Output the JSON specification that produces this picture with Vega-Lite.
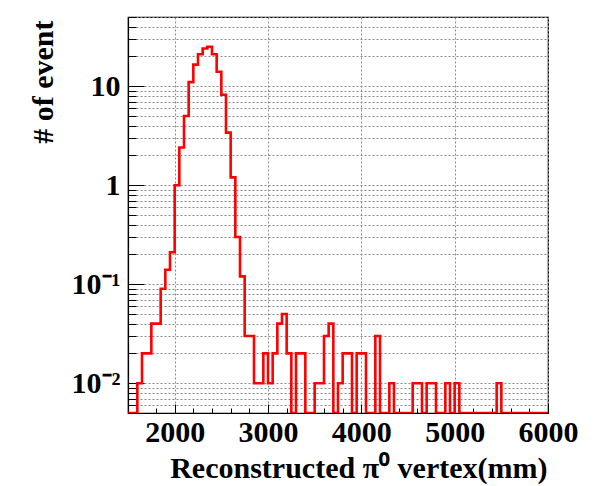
{
  "$schema": "https://vega.github.io/schema/vega-lite/v6.json",
  "width": 420,
  "height": 396,
  "autosize": {"type": "none"},
  "padding": {"left": 128, "top": 17, "right": 49, "bottom": 73},
  "background": "white",
  "config": {
    "view": {"stroke": "black", "strokeWidth": 1.2},
    "font": "Liberation Serif"
  },
  "data": {
    "values": [
      {"x": 1500, "n": 0}, {"x": 1550, "n": 0}, {"x": 1600, "n": 0.01}, {"x": 1650, "n": 0.02},
      {"x": 1700, "n": 0.02}, {"x": 1750, "n": 0.04}, {"x": 1800, "n": 0.04}, {"x": 1850, "n": 0.09},
      {"x": 1900, "n": 0.14}, {"x": 1950, "n": 0.21}, {"x": 2000, "n": 1.0}, {"x": 2050, "n": 2.4},
      {"x": 2100, "n": 5.0}, {"x": 2150, "n": 11}, {"x": 2200, "n": 16.5}, {"x": 2250, "n": 21},
      {"x": 2300, "n": 24}, {"x": 2350, "n": 25}, {"x": 2400, "n": 21}, {"x": 2450, "n": 14},
      {"x": 2500, "n": 8.2}, {"x": 2550, "n": 3.4}, {"x": 2600, "n": 1.2}, {"x": 2650, "n": 0.3},
      {"x": 2700, "n": 0.12}, {"x": 2750, "n": 0.03}, {"x": 2800, "n": 0.03}, {"x": 2850, "n": 0.01},
      {"x": 2900, "n": 0.01}, {"x": 2950, "n": 0.02}, {"x": 3000, "n": 0.01}, {"x": 3050, "n": 0.02},
      {"x": 3100, "n": 0.04}, {"x": 3150, "n": 0.05}, {"x": 3200, "n": 0.02}, {"x": 3250, "n": 0},
      {"x": 3300, "n": 0.02}, {"x": 3350, "n": 0.02}, {"x": 3400, "n": 0}, {"x": 3450, "n": 0},
      {"x": 3500, "n": 0.01}, {"x": 3550, "n": 0.01}, {"x": 3600, "n": 0.03}, {"x": 3650, "n": 0.04},
      {"x": 3700, "n": 0}, {"x": 3750, "n": 0.01}, {"x": 3800, "n": 0.02}, {"x": 3850, "n": 0.02},
      {"x": 3900, "n": 0}, {"x": 3950, "n": 0.02}, {"x": 4000, "n": 0.02}, {"x": 4050, "n": 0},
      {"x": 4100, "n": 0}, {"x": 4150, "n": 0.03}, {"x": 4200, "n": 0}, {"x": 4250, "n": 0},
      {"x": 4300, "n": 0.01}, {"x": 4350, "n": 0}, {"x": 4400, "n": 0}, {"x": 4450, "n": 0},
      {"x": 4500, "n": 0}, {"x": 4550, "n": 0.01}, {"x": 4600, "n": 0.01}, {"x": 4650, "n": 0},
      {"x": 4700, "n": 0.01}, {"x": 4750, "n": 0.01}, {"x": 4800, "n": 0}, {"x": 4850, "n": 0},
      {"x": 4900, "n": 0.01}, {"x": 4950, "n": 0}, {"x": 5000, "n": 0.01}, {"x": 5050, "n": 0},
      {"x": 5100, "n": 0}, {"x": 5150, "n": 0}, {"x": 5200, "n": 0}, {"x": 5250, "n": 0},
      {"x": 5300, "n": 0}, {"x": 5350, "n": 0}, {"x": 5400, "n": 0}, {"x": 5450, "n": 0.01},
      {"x": 5500, "n": 0}, {"x": 5550, "n": 0}, {"x": 5600, "n": 0}, {"x": 5650, "n": 0},
      {"x": 5700, "n": 0}, {"x": 5750, "n": 0}, {"x": 5800, "n": 0}, {"x": 5850, "n": 0},
      {"x": 5900, "n": 0}, {"x": 5950, "n": 0}, {"x": 6000, "n": 0}
    ]
  },
  "mark": {"type": "line", "interpolate": "step-after", "color": "#ff0000", "strokeWidth": 2.6, "clip": true, "invalid": "show"},
  "encoding": {
    "x": {
      "field": "x", "type": "quantitative",
      "scale": {"domain": [1500, 6000], "nice": false, "zero": false},
      "axis": {
        "values": [1600, 1800, 2000, 2200, 2400, 2600, 2800, 3000, 3200, 3400, 3600, 3800, 4000, 4200, 4400, 4600, 4800, 5000, 5200, 5400, 5600, 5800, 6000],
        "labelExpr": "datum.value % 1000 == 0 ? datum.value : ''",
        "labelFlush": false, "labelOverlap": false, "labelBound": false,
        "labelFont": "Liberation Serif", "labelFontWeight": "bold", "labelFontSize": 30, "labelColor": "black",
        "labelPadding": 13,
        "tickSize": {"condition": {"test": "datum.value % 1000 == 0", "value": -9}, "value": -5},
        "tickColor": "black", "tickWidth": 1,
        "domain": true, "domainColor": "black", "domainWidth": 1.2,
        "grid": true,
        "gridOpacity": {"condition": {"test": "datum.value % 1000 == 0", "value": 1}, "value": 0},
        "gridColor": "#8a8a8a", "gridDash": [2, 2], "gridWidth": 1,
        "title": "Reconstructed π⁰ vertex(mm)",
        "titleFont": "Liberation Serif", "titleFontWeight": "bold", "titleFontSize": 30, "titleColor": "black",
        "titleAnchor": "end", "titleAlign": "right", "titleBaseline": "alphabetic",
        "titleX": 419, "titleY": 64
      }
    },
    "y": {
      "field": "n", "type": "quantitative",
      "scale": {"type": "log", "domain": [0.005, 50], "nice": false, "clamp": true},
      "axis": {
        "values": [0.005, 0.006, 0.007, 0.008, 0.009, 0.01, 0.02, 0.03, 0.04, 0.05, 0.06, 0.07, 0.08, 0.09, 0.1, 0.2, 0.3, 0.4, 0.5, 0.6, 0.7, 0.8, 0.9, 1, 2, 3, 4, 5, 6, 7, 8, 9, 10, 20, 30, 40, 50],
        "labelExpr": "datum.value == 10 ? '10' : datum.value == 1 ? '1' : datum.value == 0.1 ? '10⁻¹' : datum.value == 0.01 ? '10⁻²' : ''",
        "labelOverlap": false, "labelBound": false, "labelFlush": false,
        "labelFont": "Liberation Serif", "labelFontWeight": "bold", "labelFontSize": 30, "labelColor": "black",
        "labelPadding": 24,
        "tickSize": {"condition": {"test": "datum.value == 10 || datum.value == 1 || datum.value == 0.1 || datum.value == 0.01", "value": -16}, "value": -8},
        "tickColor": "black", "tickWidth": 1,
        "domain": true, "domainColor": "black", "domainWidth": 1.2,
        "grid": true, "gridColor": "#8a8a8a", "gridDash": [2, 2], "gridWidth": 1,
        "title": "# of event",
        "titleFont": "Liberation Serif", "titleFontWeight": "bold", "titleFontSize": 30, "titleColor": "black",
        "titleAngle": -90, "titleAlign": "right", "titleBaseline": "alphabetic",
        "titleX": -76, "titleY": 3
      }
    }
  }
}
